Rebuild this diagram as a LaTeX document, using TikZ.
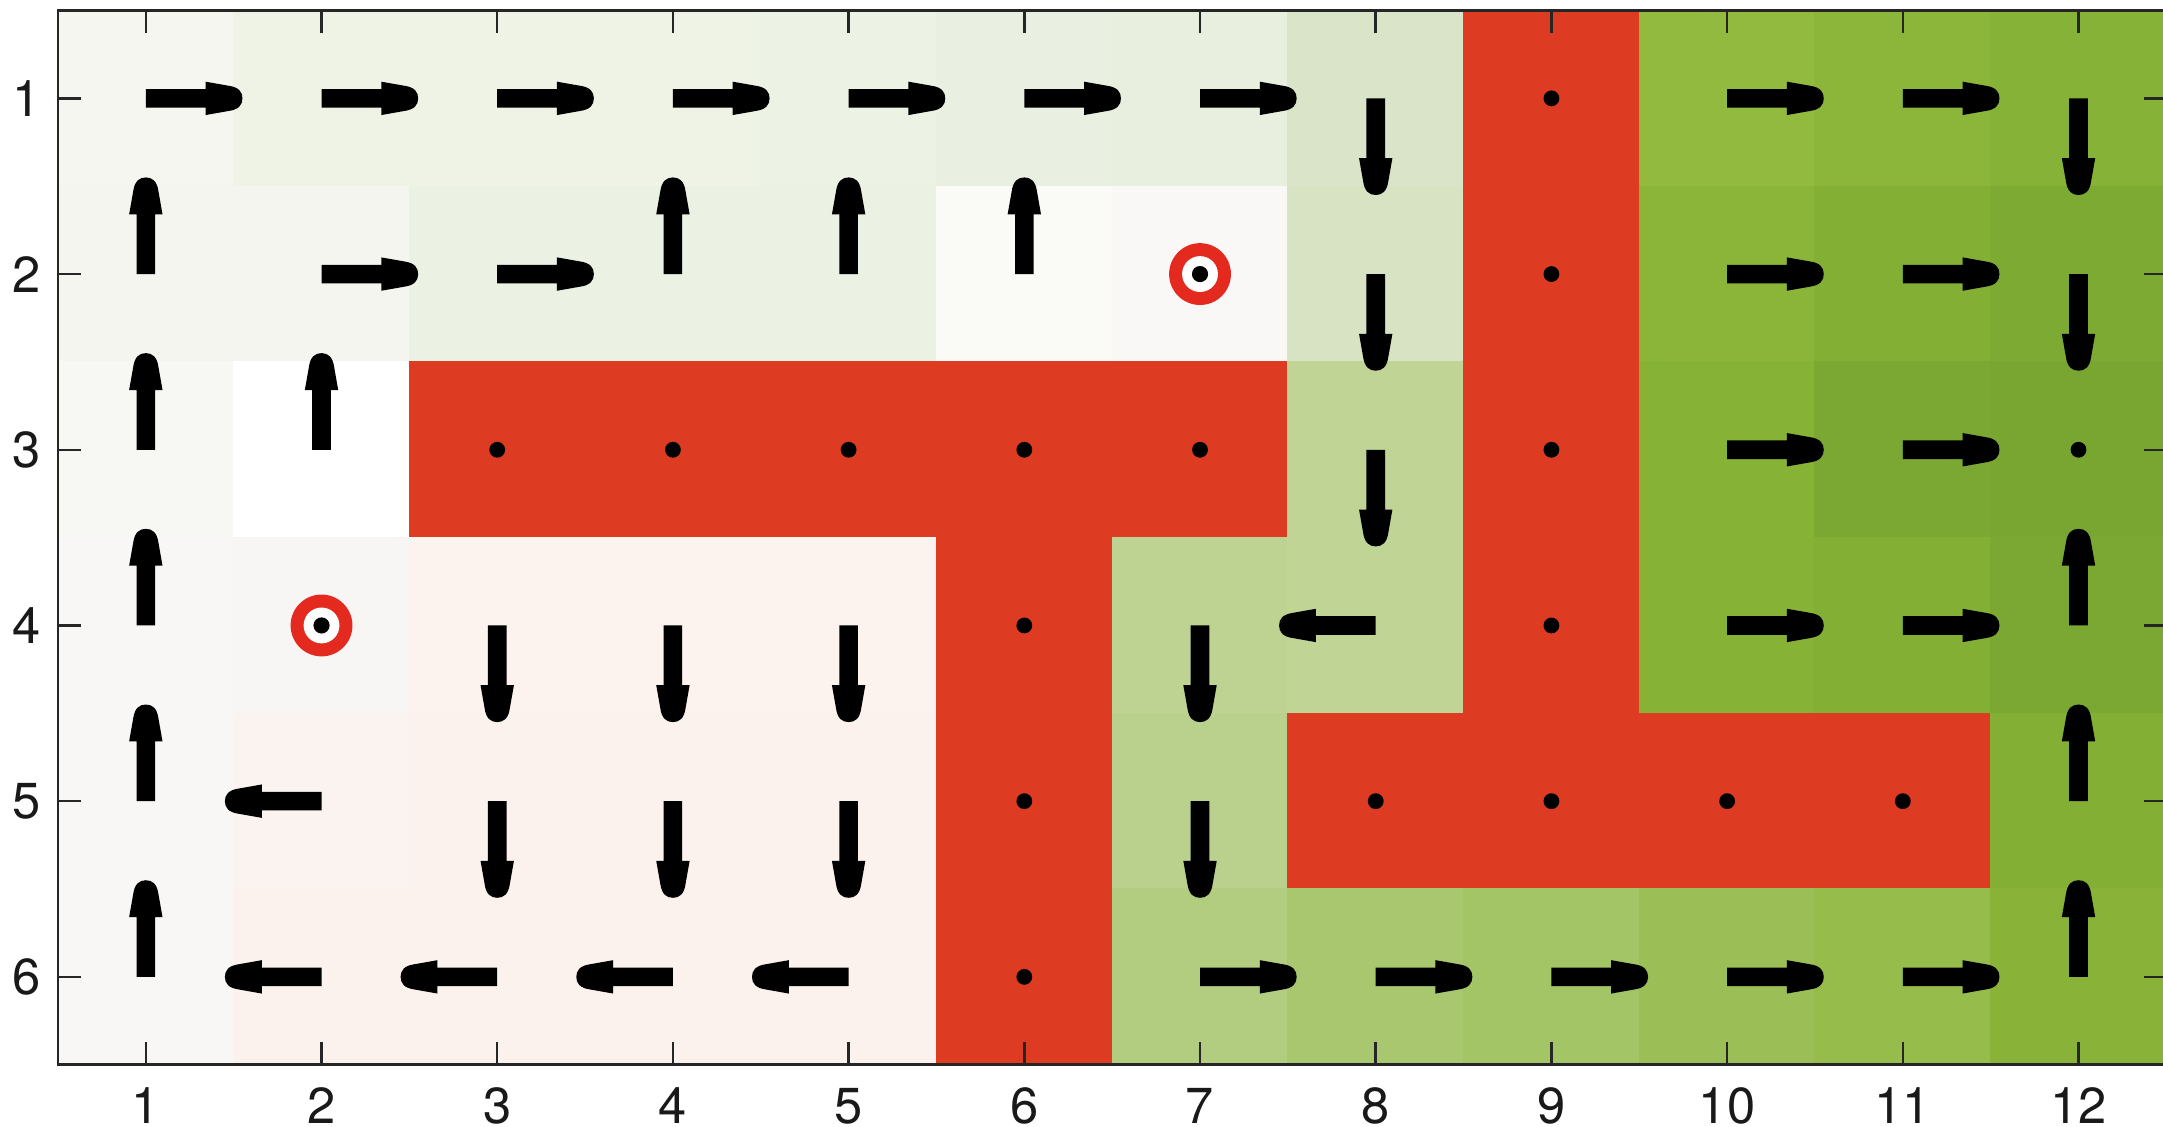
\documentclass[tikz,border=0pt]{standalone}
\usepackage{fontspec}
\setmainfont{TeX Gyre Heros}
\begin{document}
\begin{tikzpicture}[x=1cm,y=1cm,
  axisline/.style={draw=black!85, line width=0.45pt},
  tickmark/.style={draw=black!85, line width=0.4pt},
  ticklabel/.style={inner sep=0pt, font=\fontsize{8.2}{10}\selectfont, text=black!90},
  policyarrow/.style={fill=black},
  celldot/.style={fill=black},
  ringred/.style={fill={rgb,255:red,228;green,42;blue,30}}
]
% page area
\fill[white] (0.170,-0.440) rectangle (12.481,-6.854);
\useasboundingbox (0.170,-0.440) rectangle (12.481,-6.854);

% value map: column / row / R / G / B
\foreach \cx/\ry/\R/\G/\B in {
  1/1/246/246/240, 2/1/238/243/230, 3/1/238/243/230, 4/1/238/243/230,
  5/1/236/242/228, 6/1/234/240/225, 7/1/232/239/222, 8/1/218/228/200,
  9/1/222/59/35, 10/1/146/186/62, 11/1/140/182/58, 12/1/134/178/55,
  1/2/245/245/240, 2/2/245/245/240, 3/2/235/241/227, 4/2/235/241/227,
  5/2/235/241/227, 6/2/250/250/247, 7/2/250/248/246, 8/2/216/227/196,
  9/2/222/59/35, 10/2/138/181/56, 11/2/130/175/52, 12/2/124/170/50,
  1/3/247/247/243, 2/3/255/255/255, 3/3/222/59/35, 4/3/222/59/35,
  5/3/222/59/35, 6/3/222/59/35, 7/3/222/59/35, 8/3/192/212/150,
  9/3/222/59/35, 10/3/134/178/54, 11/3/122/168/50, 12/3/120/166/48,
  1/4/248/247/245, 2/4/248/246/244, 3/4/252/242/238, 4/4/252/242/238,
  5/4/252/242/238, 6/4/222/59/35, 7/4/190/211/146, 8/4/192/212/150,
  9/4/222/59/35, 10/4/134/178/54, 11/4/130/175/52, 12/4/122/168/50,
  1/5/249/247/245, 2/5/251/243/240, 3/5/251/242/238, 4/5/251/242/238,
  5/5/251/242/238, 6/5/222/59/35, 7/5/186/209/142, 8/5/222/59/35,
  9/5/222/59/35, 10/5/222/59/35, 11/5/222/59/35, 12/5/130/175/52,
  1/6/249/247/245, 2/6/251/242/238, 3/6/251/242/238, 4/6/251/242/238,
  5/6/251/242/238, 6/6/222/59/35, 7/6/178/205/128, 8/6/168/199/110,
  9/6/164/197/102, 10/6/155/191/86, 11/6/150/188/76, 12/6/136/178/56}
  \fill[fill={rgb,255:red,\R;green,\G;blue,\B}]
    (\cx-0.503,-\ry+0.503) rectangle (\cx+0.503,-\ry-0.503);

% policy arrows: column / row / direction angle
\foreach \cx/\ry/\ang in {
  1/1/0, 2/1/0, 3/1/0, 4/1/0, 5/1/0, 6/1/0, 7/1/0, 8/1/270, 10/1/0, 11/1/0, 12/1/270,
  1/2/90, 2/2/0, 3/2/0, 4/2/90, 5/2/90, 6/2/90, 8/2/270, 10/2/0, 11/2/0, 12/2/270,
  1/3/90, 2/3/90, 8/3/270, 10/3/0, 11/3/0,
  1/4/90, 3/4/270, 4/4/270, 5/4/270, 7/4/270, 8/4/180, 10/4/0, 11/4/0, 12/4/90,
  1/5/90, 2/5/180, 3/5/270, 4/5/270, 5/5/270, 7/5/270, 12/5/90,
  1/6/90, 2/6/180, 3/6/180, 4/6/180, 5/6/180, 7/6/0, 8/6/0, 9/6/0, 10/6/0, 11/6/0, 12/6/90}
  \fill[policyarrow, shift={(\cx,-\ry)}, rotate=\ang]
    (0,0.053) -- (0.34,0.053) -- (0.34,0.095)
    -- (0.47,0.072) .. controls (0.53,0.064) and (0.55,0.036) .. (0.55,0)
    .. controls (0.55,-0.036) and (0.53,-0.064) .. (0.47,-0.072)
    -- (0.34,-0.095) -- (0.34,-0.053) -- (0,-0.053) -- cycle;

% dots on obstacle cells and the terminal cell
\foreach \cx/\ry in {9/1, 9/2, 3/3, 4/3, 5/3, 6/3, 7/3, 9/3, 6/4, 9/4,
                      6/5, 8/5, 9/5, 10/5, 11/5, 6/6, 12/3}
  \fill[celldot] (\cx,-\ry) circle (0.045);

% start / goal markers
\foreach \cx/\ry in {7/2, 2/4} {
  \fill[ringred] (\cx,-\ry) circle (0.176);
  \fill[white] (\cx,-\ry) circle (0.102);
  \fill[black] (\cx,-\ry) circle (0.046);
}

% axes frame and inward ticks
\draw[axisline] (0.5,-0.5) rectangle (12.5,-6.5);
\foreach \cx in {1,...,12} {
  \draw[tickmark] (\cx,-0.5) -- ++(0,-0.13);
  \draw[tickmark] (\cx,-6.5) -- ++(0,0.13);
  \node[ticklabel] (xl\cx) at (\cx,-6.735) {\cx};
}
\foreach \ry in {1,...,6} {
  \draw[tickmark] (0.5,-\ry) -- ++(0.13,0);
  \draw[tickmark] (12.5,-\ry) -- ++(-0.13,0);
  \node[ticklabel, anchor=east] (yl\ry) at (0.41,-\ry) {\ry};
}
\end{tikzpicture}
\end{document}
